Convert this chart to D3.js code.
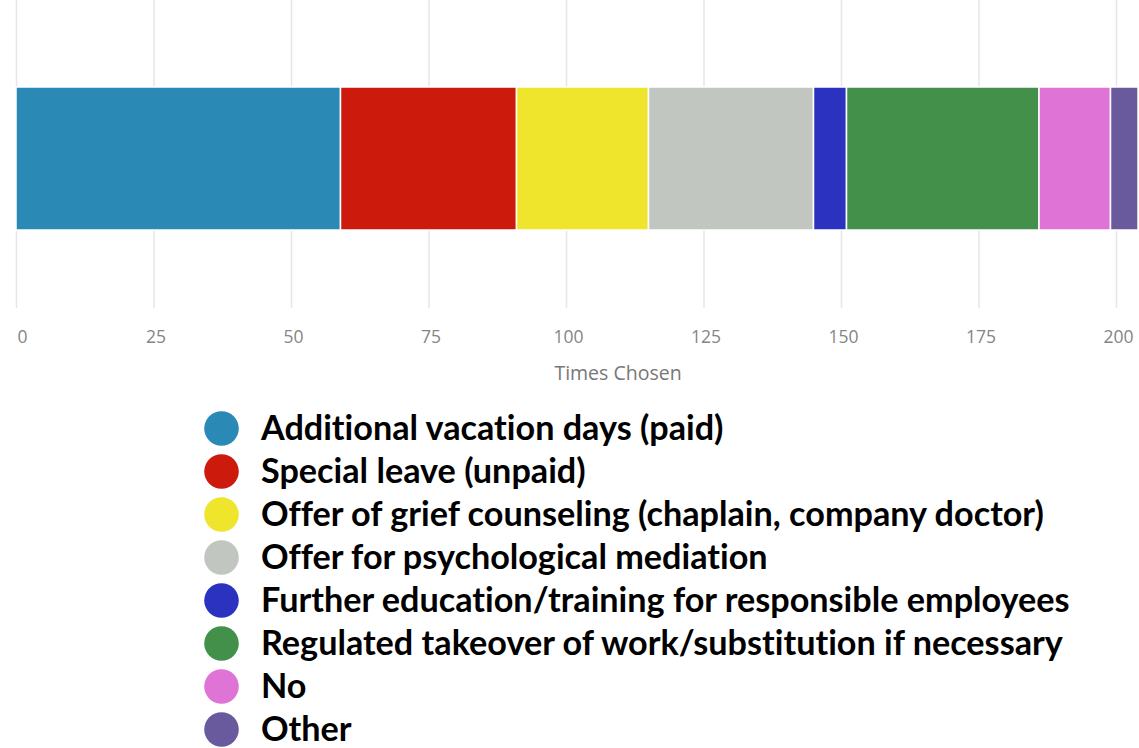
<!DOCTYPE html>
<html>
<head>
<meta charset="utf-8">
<script src="https://cdn.jsdelivr.net/npm/d3@7"></script>
<style>
  body { margin: 0; background: #fff; }
  svg { display: block; }
</style>
</head>
<body>
<svg width="1139" height="748"></svg>
<script>
var categories = [ 'Additional vacation days (paid)'
                 , 'Special leave (unpaid)'
                 , 'Offer of grief counseling (chaplain, company doctor)'
                 , 'Offer for psychological mediation'
                 , 'Further education/training for responsible employees'
                 , 'Regulated takeover of work/substitution if necessary'
                 , 'No'
                 , 'Other'
                 ]
var values = [59, 32, 24, 30, 6, 35, 13, 5]
var colors = ['#2a8ab5', '#cc1a0c', '#f0e52d', '#c1c7c0', '#2c32c0', '#43904b', '#df73d6', '#685a9c']
var ticks = [0, 25, 50, 75, 100, 125, 150, 175, 200]
var axisTitle = 'Times Chosen'

var svg = d3.select('svg')
var x = d3.scaleLinear().domain([0, 200]).range([16, 1116])

// grid + tick labels
var axis = d3.axisBottom(x).tickValues(ticks).tickSize(308).tickPadding(0)
var g = svg.append('g').call(axis)
g.select('.domain').remove()
g.selectAll('.tick line').attr('stroke', '#e6e6e6').attr('stroke-width', 1.5)
g.selectAll('.tick text')
  .attr('y', 343).attr('dy', 0)
  .attr('dx', function (d) { return d === 0 ? 6 : 2 })
  .attr('fill', '#858585')
  .style('font-family', '"Open Sans", sans-serif')
  .style('font-size', '17.5px')

svg.append('text')
  .attr('x', 618).attr('y', 380)
  .attr('text-anchor', 'middle')
  .attr('fill', '#777')
  .style('font-family', '"Open Sans", sans-serif')
  .style('font-size', '19.5px')
  .text(axisTitle)

// stacked segments
var starts = values.map(function (v, i) { return d3.sum(values.slice(0, i)) })
svg.append('g').selectAll('rect').data(values).enter().append('rect')
  .attr('x', function (d, i) { return x(starts[i]) })
  .attr('width', function (d) { return x(d) - x(0) })
  .attr('y', 87).attr('height', 143)
  .attr('fill', function (d, i) { return colors[i] })
  .attr('stroke', '#fff').attr('stroke-width', 1.5)

// legend
var leg = svg.append('g').selectAll('g').data(categories).enter().append('g')
  .attr('transform', function (d, i) { return 'translate(0,' + (428.5 + i * 43) + ')' })
leg.append('circle').attr('cx', 221.5).attr('r', 17.3)
  .attr('fill', function (d, i) { return colors[i] })
var txt = leg.append('text').attr('x', 261).attr('y', 11.5)
  .attr('fill', '#000')
  .style('font-family', 'Lato, sans-serif').style('font-weight', 'bold')
  .style('font-variant-ligatures', 'none')
  .style('font-size', '100px')
  .text(function (d) { return d })
var widest = d3.max(txt.nodes(), function (n) { return n.getComputedTextLength() })
txt.style('font-size', (100 * 809 / widest) + 'px')
</script>
</body>
</html>
